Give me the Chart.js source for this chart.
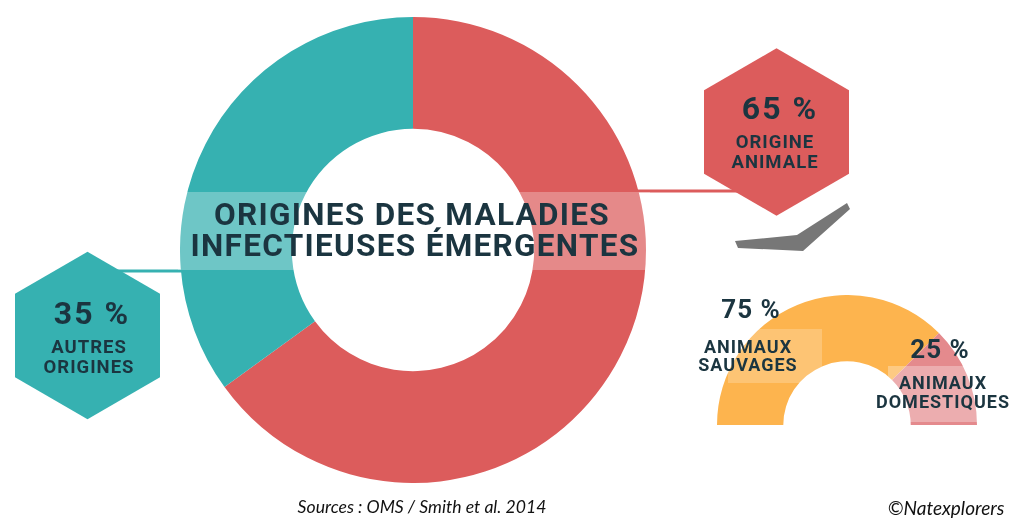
<!DOCTYPE html>
<html>
<head>
<meta charset="utf-8">
<script src="https://cdn.jsdelivr.net/npm/chart.js@4.4.1/dist/chart.umd.min.js"></script>
<style>
  html, body { margin:0; padding:0; background:#fff; }
  #wrap { position:relative; width:1024px; height:529px; overflow:hidden; background:#fff; }
  canvas { position:absolute; }
  .t { position:absolute; transform:translate(-50%,-50%); white-space:nowrap; color:#1b3540;
       font-family:Roboto, "DejaVu Sans", sans-serif; font-weight:700; text-align:center; }
  svg { position:absolute; left:0; top:0; }
</style>
</head>
<body>
<div id="wrap">
  <canvas id="main" width="466" height="466" style="left:180px;top:17px;width:466px;height:466px"></canvas>
  <canvas id="half" width="260" height="130" style="left:717px;top:295px;width:260px;height:130px"></canvas>
  <svg width="1024" height="529" id="shapes"></svg>
  <div id="texts"></div>
</div>
<script>
// ---- data ----
const mainLabels = ['Origine animale', 'Autres origines'];
const mainValues = [65, 35];
const mainColors = ['#dc5c5c', '#36b1b1'];
const subLabels = ['Animaux sauvages', 'Animaux domestiques'];
const subValues = [75, 25];
const subColors = ['#fdb44e', '#e48a8d'];
const titleLines = ['ORIGINES DES MALADIES', 'INFECTIEUSES ÉMERGENTES'];
const sourceText = 'Sources : OMS / Smith et al. 2014';
const creditText = '©Natexplorers';

new Chart(document.getElementById('main'), {
  type: 'doughnut',
  data: { labels: mainLabels, datasets: [{ data: mainValues, backgroundColor: mainColors, borderWidth: 0 }] },
  options: { responsive:false, animation:false, events:[], cutout:'52%', rotation:0,
    plugins:{ legend:{display:false}, tooltip:{enabled:false} }, layout:{padding:0} }
});
new Chart(document.getElementById('half'), {
  type: 'doughnut',
  data: { labels: subLabels, datasets: [{ data: subValues, backgroundColor: subColors, borderWidth: 0 }] },
  options: { responsive:false, animation:false, events:[], cutout:'49%', rotation:-90, circumference:180,
    plugins:{ legend:{display:false}, tooltip:{enabled:false} }, layout:{padding:0} }
});

// ---- decorative shapes ----
const svg = document.getElementById('shapes');
function hex(cx, cy, w){ const h = w/Math.sqrt(3); 
  return [[cx,cy-h],[cx+w/2,cy-h/2],[cx+w/2,cy+h/2],[cx,cy+h],[cx-w/2,cy+h/2],[cx-w/2,cy-h/2]].map(p=>p.join(',')).join(' '); }
svg.innerHTML = `
  <line x1="110" y1="271" x2="186" y2="271" stroke="#36b1b1" stroke-width="3"/>
  <line x1="636" y1="191" x2="760" y2="191" stroke="#dc5c5c" stroke-width="3"/>
  <rect x="178" y="192" width="472" height="78" fill="rgba(255,255,255,0.28)"/>
  <rect x="728" y="329" width="94" height="54" fill="rgba(255,255,255,0.22)"/>
  <rect x="888" y="366" width="100" height="56" fill="rgba(255,255,255,0.3)"/>
  <polygon points="${hex(87.5,335.5,145)}" fill="#36b1b1"/>
  <polygon points="${hex(776.5,132,145)}" fill="#dc5c5c"/>
  <polygon points="735,241 797,235 847,203 850,209 803,251 738,248" fill="#777777"/>
`;

// ---- texts ----
const tx = document.getElementById('texts');
function addText(str, x, y, size, extra){
  const d = document.createElement('div'); d.className='t'; d.textContent=str;
  d.style.left=x+'px'; d.style.top=y+'px'; d.style.fontSize=size+'px'; d.style.lineHeight='1';
  if (extra) Object.assign(d.style, extra);
  tx.appendChild(d);
}
const sp = {letterSpacing:'1px'};
addText(titleLines[0], 412, 215, 31.5, {letterSpacing:'1.3px'});
addText(titleLines[1], 415, 246, 31.5, {letterSpacing:'1.3px'});
addText(mainValues[1] + ' %', 92, 313, 32, {letterSpacing:'2px'});
addText('AUTRES', 89, 347, 18.5, sp);
addText('ORIGINES', 89, 367, 18.5, sp);
addText(mainValues[0] + ' %', 780, 108, 32, {letterSpacing:'2px'});
addText('ORIGINE', 775, 142, 18.5, sp);
addText('ANIMALE', 775, 162, 18.5, sp);
addText(subValues[0] + ' %', 751, 309, 26, {letterSpacing:'1px'});
addText('ANIMAUX', 748, 347, 18, sp);
addText('SAUVAGES', 748, 365, 18, sp);
addText(subValues[1] + ' %', 940, 349, 26, {letterSpacing:'1px'});
addText('ANIMAUX', 943, 383, 18, sp);
addText('DOMESTIQUES', 943, 402, 18, sp);
addText(sourceText, 422, 507, 17.6, {fontFamily:'Lato, sans-serif', fontStyle:'italic', fontWeight:'400', color:'#111'});
addText(creditText, 946, 507, 19, {fontFamily:'Lato, sans-serif', fontStyle:'italic', fontWeight:'400', color:'#111'});
</script>
</body>
</html>
